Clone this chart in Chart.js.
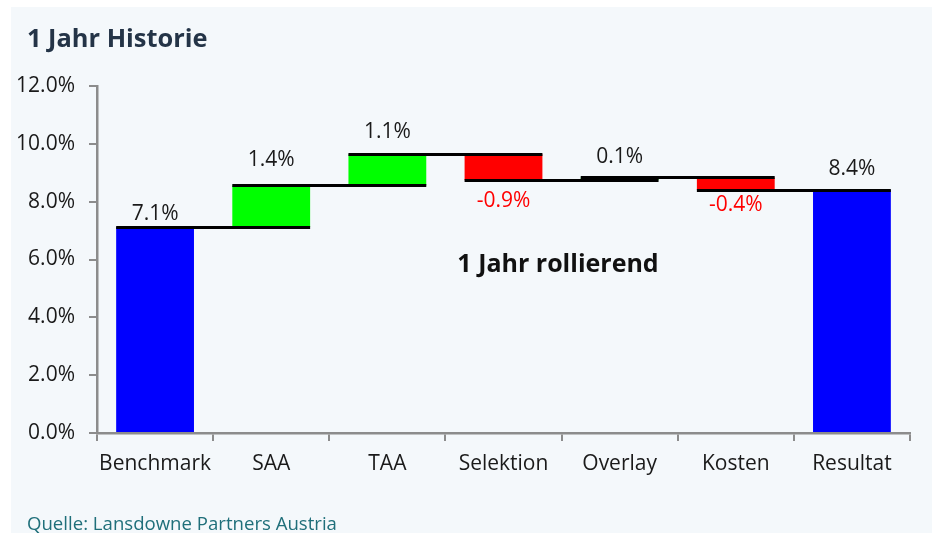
<!DOCTYPE html>
<html>
<head>
<meta charset="utf-8">
<script src="https://cdn.jsdelivr.net/npm/chart.js@4.4.1/dist/chart.umd.min.js"></script>
<style>
  html, body { margin: 0; padding: 0; background: #ffffff; width: 932px; height: 533px; overflow: hidden; }
  #panel { position: absolute; left: 11px; top: 7px; width: 921px; height: 526px; background: #f4f8fb; }
  #title { position: absolute; left: 27px; top: 19px; font: bold 25.4px "Open Sans", sans-serif; line-height: 36px; color: #243447; white-space: nowrap; }
  #note { position: absolute; left: 558px; top: 262px; transform: translate(-50%, -50%); font: bold 25px "Open Sans", sans-serif; color: #111; white-space: nowrap; }
  #source { position: absolute; left: 27px; top: 510px; font: 18.6px "Open Sans", sans-serif; line-height: 26px; color: #1f6f7a; white-space: nowrap; }
  #wrap { position: absolute; left: 0; top: 0; width: 932px; height: 533px; }
</style>
</head>
<body>
<div id="panel"></div>
<div id="wrap"><canvas id="c" width="932" height="533"></canvas></div>
<div id="title">1 Jahr Historie</div>
<div id="note">1 Jahr rollierend</div>
<div id="source">Quelle: Lansdowne Partners Austria</div>
<script>
// ---- data ----
const categories = ['Benchmark', 'SAA', 'TAA', 'Selektion', 'Overlay', 'Kosten', 'Resultat'];
const changes = [7.12, 1.44, 1.08, -0.90, 0.10, -0.44, 8.40];   // % contribution per step
const totalIndex = [0, 6];                                       // bars drawn from zero
const yTicks = [0, 2, 4, 6, 8, 10, 12];

// ---- build floating ranges ----
const ranges = [];
const ends = [];
let cum = 0;
changes.forEach((v, i) => {
  if (totalIndex.includes(i)) {
    ranges.push([0, v]);
    cum = v;
  } else {
    ranges.push([cum, cum + v]);
    cum = cum + v;
  }
  ends.push(cum);
});
const colors = changes.map((v, i) => totalIndex.includes(i) ? '#0000ff' : (v >= 0 ? '#00ff00' : '#ff0000'));

const labelGaps = [6, 18, 15, 13, 13, 7, 14];

const waterfallPlugin = {
  id: 'waterfall',
  afterDatasetsDraw(chart) {
    const meta = chart.getDatasetMeta(0);
    const ys = chart.scales.y;
    const ctx = chart.ctx;
    ctx.save();
    ctx.strokeStyle = '#000000';
    ctx.lineWidth = 3;
    for (let i = 0; i < meta.data.length - 1; i++) {
      const a = meta.data[i], b = meta.data[i + 1];
      const yy = Math.round(ys.getPixelForValue(ends[i])) + 0.5;
      ctx.beginPath();
      ctx.moveTo(a.x - a.width / 2, yy);
      ctx.lineTo(b.x + b.width / 2, yy);
      ctx.stroke();
    }
    ctx.font = '21px "Open Sans", sans-serif';
    ctx.textAlign = 'center';
    ctx.textBaseline = 'middle';
    changes.forEach((v, i) => {
      const bar = meta.data[i];
      const hi = ys.getPixelForValue(Math.max(ranges[i][0], ranges[i][1]));
      const lo = ys.getPixelForValue(Math.min(ranges[i][0], ranges[i][1]));
      const txt = v.toFixed(1) + '%';
      if (v >= 0) {
        ctx.fillStyle = '#1a1a1a';
        ctx.fillText(txt, bar.x, hi - labelGaps[i] - 7);
      } else {
        ctx.fillStyle = '#ff0000';
        ctx.fillText(txt, bar.x, lo + labelGaps[i] + 8);
      }
    });
    ctx.restore();
  }
};

new Chart(document.getElementById('c'), {
  type: 'bar',
  data: {
    labels: categories,
    datasets: [{
      data: ranges,
      backgroundColor: colors,
      borderWidth: 0,
      categoryPercentage: 1.0,
      barPercentage: 0.67
    }]
  },
  options: {
    responsive: false,
    animation: false,
    layout: { padding: { top: 86, right: 22, bottom: 40, left: 0 } },
    plugins: { legend: { display: false }, tooltip: { enabled: false } },
    scales: {
      x: {
        grid: { display: true, drawOnChartArea: false, offset: true, color: '#8c8c8c', lineWidth: 2, tickLength: 8 },
        border: { display: true, color: '#8c8c8c', width: 2.5 },
        ticks: { color: '#1a1a1a', font: { family: 'Open Sans', size: 21 }, padding: 10, maxRotation: 0 },
        afterFit(scale) { scale.height = 60; }
      },
      y: {
        min: 0, max: 12,
        afterBuildTicks(scale) { scale.ticks = yTicks.map(v => ({ value: v })); },
        grid: { display: true, drawOnChartArea: false, color: '#8c8c8c', lineWidth: 2, tickLength: 8 },
        border: { display: true, color: '#8c8c8c', width: 2.5 },
        ticks: { color: '#1a1a1a', font: { family: 'Open Sans', size: 21 }, padding: 14,
                 callback: v => Number(v).toFixed(1) + '%' },
        afterFit(scale) { scale.width = 97; }
      }
    }
  },
  plugins: [waterfallPlugin]
});
</script>
</body>
</html>
